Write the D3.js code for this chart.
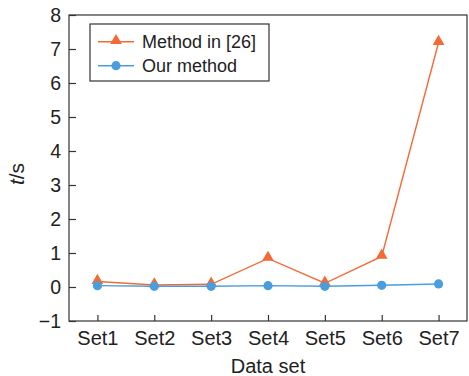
<!DOCTYPE html>
<html><head><meta charset="utf-8">
<script src="https://cdn.jsdelivr.net/npm/d3@7"></script>
<style>body{margin:0;background:#fff}svg{display:block}text{font-family:"Liberation Sans",Arial,sans-serif}</style>
</head><body><svg id="c" width="469" height="376"></svg>
<script>
const categories = ["Set1","Set2","Set3","Set4","Set5","Set6","Set7"];
const method26 = [0.16,0.06,0.08,0.84,0.11,0.90,7.19];
const ourMethod = [0.04,0.02,0.02,0.04,0.02,0.05,0.09];
const yTicks = [-1,0,1,2,3,4,5,6,7,8];
const seriesNames = ["Method in [26]","Our method"];
const colors = ["#f26a36","#4a9ede"];

const svg = d3.select("#c");
const L=69, R=467, T=15, B=321;
const x = d3.scalePoint().domain(categories).range([L,R]).padding(0.5);
const y = d3.scaleLinear().domain([-1,8]).range([B,T]);
const axisColor = "#333";

// frame
svg.append("rect").attr("x",L).attr("y",T).attr("width",R-L).attr("height",B-T)
  .attr("fill","none").attr("stroke",axisColor).attr("stroke-width",1.2);

const fmt = d => d<0 ? "\u2212"+Math.abs(d) : String(d);
const ya = svg.append("g").attr("transform",`translate(${L},0)`)
  .call(d3.axisLeft(y).tickValues(yTicks).tickFormat(fmt).tickSizeInner(-7).tickSizeOuter(0).tickPadding(8));
const xa = svg.append("g").attr("transform",`translate(0,${B})`)
  .call(d3.axisBottom(x).tickSizeInner(-6).tickSizeOuter(0).tickPadding(10));
[[ya,"19.5px"],[xa,"20px"]].forEach(([g,f])=>{
  g.select(".domain").remove();
  g.selectAll("line").attr("stroke",axisColor).attr("stroke-width",1.2);
  g.selectAll("text").attr("font-size",f).attr("fill","#222").style("font-family",'"Liberation Sans",Arial,sans-serif');
});

svg.append("text").attr("x",(L+R)/2).attr("y",373).attr("text-anchor","middle")
  .attr("font-size","20px").attr("fill","#222").text("Data set");
const yl = svg.append("text").attr("transform","translate(24,174) rotate(-90)").attr("text-anchor","middle")
  .attr("font-size","21px").attr("fill","#222");
yl.append("tspan").attr("font-style","italic").text("t");
yl.append("tspan").text("/s");

const line = d3.line().x((d,i)=>x(categories[i])).y(d=>y(d));
const tri = d3.symbol().type(d3.symbolTriangle).size(60);

// method in [26]
svg.append("path").datum(method26).attr("d",line).attr("fill","none").attr("stroke",colors[0]).attr("stroke-width",1.4);
svg.append("g").selectAll("path").data(method26).join("path")
  .attr("d",tri).attr("transform",(d,i)=>`translate(${x(categories[i])},${y(d)-1})`).attr("fill",colors[0]);
// our method
svg.append("path").datum(ourMethod).attr("d",line).attr("fill","none").attr("stroke",colors[1]).attr("stroke-width",1.4);
svg.append("g").selectAll("circle").data(ourMethod).join("circle")
  .attr("cx",(d,i)=>x(categories[i])).attr("cy",d=>y(d)).attr("r",4.6).attr("fill",colors[1]);

// legend
const lg = svg.append("g");
lg.append("rect").attr("x",90).attr("y",24).attr("width",179).attr("height",57)
  .attr("fill","#fff").attr("stroke",axisColor).attr("stroke-width",1.2);
const rows=[41.7,65.7];
seriesNames.forEach((n,i)=>{
  lg.append("line").attr("x1",98).attr("x2",134).attr("y1",rows[i]).attr("y2",rows[i]).attr("stroke",colors[i]).attr("stroke-width",1.4);
  if(i===0) lg.append("path").attr("d",tri).attr("transform",`translate(116,${rows[i]-1})`).attr("fill",colors[i]);
  else lg.append("circle").attr("cx",116).attr("cy",rows[i]).attr("r",4.6).attr("fill",colors[i]);
  lg.append("text").attr("x",142).attr("y",rows[i]).attr("dy","0.35em").attr("font-size","18px").attr("fill","#222").text(n);
});
</script></body></html>
